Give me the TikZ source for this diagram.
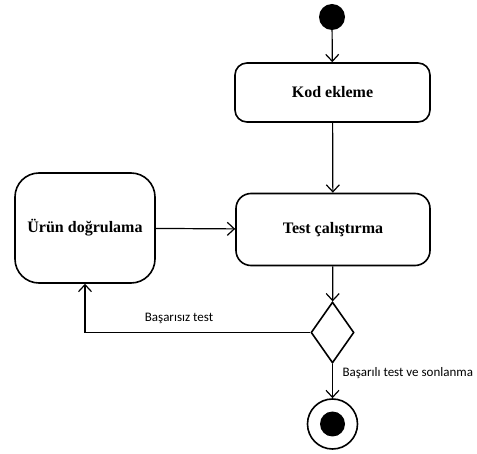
\documentclass[tikz,border=0pt]{standalone}
\usepackage{fontspec}
\setmainfont{Liberation Serif}
\newfontfamily\labelfont{Carlito}
\usetikzlibrary{arrows.meta,shapes.geometric}
\begin{document}
\begin{tikzpicture}[x=1pt,y=-1pt,
  action/.style={draw,line width=1.6pt,align=center,font=\fontsize{16}{19}\selectfont\bfseries,inner sep=0pt},
  flow/.style={line width=1.2pt,-{Straight Barb[length=7pt,width=13pt,line width=1.2pt]}},
  guard/.style={font=\labelfont\fontsize{13}{15}\selectfont}]
\useasboundingbox (0,0) rectangle (477,454);
% initial node
\node[circle,fill=black,minimum size=26pt,inner sep=0pt] (start) at (332,17) {};
% actions
\node[action,rounded corners=12pt,minimum width=195pt,minimum height=59pt] (kod) at (332.5,92.5) {Kod ekleme};
\node[action,rounded corners=15pt,minimum width=194pt,minimum height=72pt] (test) at (333,229.5) {Test çalıştırma};
\node[action,rounded corners=24pt,minimum width=140pt,minimum height=110pt] (urun) at (85,228) {Ürün doğrulama};
% decision
\node[diamond,draw,line width=1.6pt,minimum width=43pt,minimum height=61pt,aspect=0.7,inner sep=0pt] (dec) at (332.5,332.5) {};
% final node
\node[circle,draw,line width=1.6pt,minimum size=50pt,inner sep=0pt] (end) at (332.5,424) {};
\node[circle,fill=black,minimum size=25pt,inner sep=0pt] (endin) at (end.center) {};
% connectors
\draw[flow] (start) -- (kod);
\draw[flow] (kod) -- (test);
\draw[flow] (urun) -- (test);
\draw[flow] (test) -- (dec);
\draw[flow] (dec.south) -- (end.north);
\draw[flow] (dec.west) -| (urun.south);
% guards
\node[guard] (fail) at (179,318) {Başarısız test};
\node[guard,anchor=west] (pass) at (339,373) {Başarılı test ve sonlanma};
\end{tikzpicture}
\end{document}
